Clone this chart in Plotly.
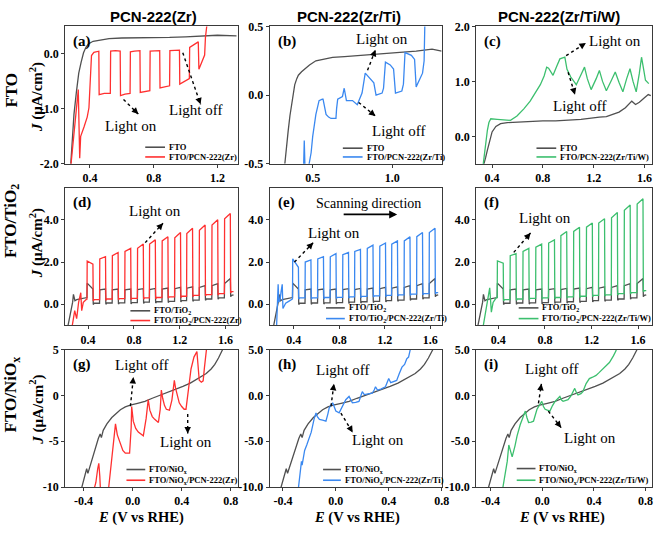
import plotly.graph_objects as go

W, H = 666, 533
SERIF = "Liberation Serif"
SANS = "Liberation Sans"
GRAY = "#505050"
RED = "#ff3030"
BLUE = "#3a88f0"
GREEN = "#3cbf6e"

# ---------------- data : row 1 (FTO) ----------------
a_fto_x = [0.28, 0.29, 0.30, 0.315, 0.33, 0.345, 0.36, 0.375, 0.39, 0.42, 0.47, 0.52, 0.60, 0.70, 0.80, 0.90, 1.00, 1.10, 1.20, 1.32]
a_fto_y = [-2.0, -1.6, -1.1, -0.7, -0.35, -0.15, 0.02, 0.12, 0.18, 0.23, 0.26, 0.28, 0.29, 0.29, 0.30, 0.30, 0.31, 0.33, 0.34, 0.33]
a_pcn_x = [0.28, 0.30, 0.32, 0.327, 0.336, 0.342, 0.363, 0.383, 0.394, 0.41, 0.425, 0.456,
           0.458, 0.49, 0.528, 0.530, 0.56, 0.590, 0.592, 0.62, 0.652, 0.654, 0.68, 0.714,
           0.716, 0.745, 0.776, 0.778, 0.81, 0.838, 0.840, 0.87, 0.900, 0.902, 0.93, 0.962,
           0.964, 0.99, 1.024, 1.026, 1.05, 1.080, 1.084, 1.095, 1.11, 1.12, 1.125, 1.135]
a_pcn_y = [-2.05, -1.39, -0.8, -0.65, -1.9, -1.5, -1.33, -1.15, -0.98, -0.03, 0.03, 0.05,
           -0.74, -0.72, -0.72, 0.05, 0.06, 0.05, -0.76, -0.73, -0.72, 0.04, 0.05, 0.06,
           -0.70, -0.68, -0.67, 0.05, 0.06, 0.06, -0.62, -0.60, -0.58, 0.06, 0.07, 0.07,
           -0.55, -0.50, -0.45, 0.12, 0.16, 0.22, -0.28, -0.2, -0.08, -0.02, 0.3, 0.55]

b_fto_x = [0.325, 0.335, 0.346, 0.357, 0.367, 0.377, 0.387, 0.40, 0.41, 0.43, 0.45, 0.48, 0.52, 0.57, 0.625, 0.70, 0.83, 0.95, 1.04, 1.15, 1.25, 1.31]
b_fto_y = [-0.5, -0.37, -0.26, -0.15, -0.07, 0.02, 0.075, 0.12, 0.145, 0.17, 0.19, 0.22, 0.25, 0.26, 0.275, 0.28, 0.29, 0.30, 0.31, 0.32, 0.335, 0.32]
b_pcn_x = [0.443, 0.447, 0.452, 0.47, 0.49, 0.50, 0.52, 0.54, 0.56, 0.565, 0.584, 0.60, 0.615, 0.646, 0.65,
           0.657, 0.687, 0.698, 0.712, 0.75, 0.78, 0.80, 0.81, 0.83, 0.863, 0.884, 0.898, 0.936, 0.945,
           0.957, 0.987, 1.008, 1.02, 1.06, 1.07, 1.08, 1.12, 1.14, 1.15, 1.17, 1.19, 1.2, 1.205]
b_pcn_y = [-0.52, -0.33, -0.55, -0.55, -0.42, -0.30, -0.14, -0.04, -0.03, -0.03, -0.14, -0.16, -0.17, -0.17, -0.1,
           -0.03, -0.01, 0.05, -0.04, -0.04, -0.07, -0.02, 0.015, 0.16, 0.12, 0.09, 0.0, 0.015, 0.05,
           0.24, 0.22, 0.19, 0.015, 0.03, 0.08, 0.31, 0.29, 0.26, 0.06, 0.11, 0.16, 0.25, 0.55]

c_fto_x = [0.33, 0.337, 0.35, 0.363, 0.38, 0.40, 0.43, 0.467, 0.52, 0.596, 0.70, 0.80, 0.90, 0.985, 1.10, 1.245,
           1.30, 1.35, 1.40, 1.45, 1.50, 1.53, 1.56, 1.60, 1.63, 1.65]
c_fto_y = [-0.55, -0.5, -0.38, -0.25, -0.08, 0.08, 0.18, 0.23, 0.25, 0.26, 0.27, 0.28, 0.28, 0.29, 0.31, 0.35,
           0.36, 0.40, 0.44, 0.52, 0.64, 0.58, 0.62, 0.70, 0.76, 0.74]
c_pcn_x = [0.328, 0.34, 0.352, 0.363, 0.375, 0.39, 0.44, 0.50, 0.545, 0.596, 0.65, 0.70, 0.74, 0.78, 0.81, 0.83,
           0.845, 0.88, 0.91, 0.934, 0.973, 0.99, 1.02, 1.063, 1.10, 1.128, 1.15, 1.18, 1.22, 1.245, 1.27, 1.30,
           1.34, 1.37, 1.40, 1.43, 1.46, 1.486, 1.51, 1.535, 1.56, 1.577, 1.595, 1.608, 1.634]
c_pcn_y = [-0.55, -0.3, -0.05, 0.11, 0.25, 0.32, 0.31, 0.30, 0.29, 0.37, 0.50, 0.64, 0.80, 0.94, 1.10, 1.26,
           1.24, 1.11, 1.28, 1.41, 1.44, 1.22, 1.08, 0.94, 1.12, 1.26, 1.05, 0.85, 1.05, 1.20, 1.00, 0.83,
           1.02, 1.17, 0.98, 0.81, 1.05, 1.23, 1.00, 0.81, 1.15, 1.44, 1.20, 1.02, 0.96]

# ---------------- data : row 2 (FTO/TiO2), chopped light ----------------
light_on_x = [0.39, 0.50, 0.61, 0.72, 0.83, 0.935, 1.045, 1.155, 1.26, 1.37, 1.48, 1.59]
light_off_x = [0.445, 0.555, 0.665, 0.775, 0.885, 0.99, 1.10, 1.21, 1.315, 1.425, 1.535, 1.645]
scan_end_x = 1.67

tio2_pre_x = [0.225, 0.24, 0.255, 0.265, 0.272, 0.285, 0.30, 0.33, 0.36, 0.385]
tio2_pre_y = [-1.0, -0.6, -0.22, 0.1, 0.47, 0.17, 0.22, 0.26, 0.30, 0.32]
tio2_top_a = [1.0, 0.68, 0.68, 0.68, 0.70, 0.70, 0.72, 0.74, 0.76, 0.80, 0.88, 0.98]
tio2_top_b = [0.72, 0.72, 0.72, 0.72, 0.74, 0.75, 0.77, 0.80, 0.83, 0.88, 0.98, 1.22]
tio2_dark = [0.05, 0.06, 0.07, 0.08, 0.10, 0.12, 0.14, 0.17, 0.20, 0.25, 0.30, 0.42]

d_pre_x = [0.255, 0.262, 0.283, 0.30, 0.317, 0.336, 0.344, 0.358, 0.386]
d_pre_y = [-1.1, -1.0, -0.3, -0.68, 0.09, 0.55, -0.3, 0.09, 0.24]
d_top_a = [2.05, 2.15, 2.30, 2.50, 2.65, 2.85, 3.00, 3.15, 3.35, 3.50, 3.75, 4.05]
d_top_b = [1.90, 2.25, 2.45, 2.65, 2.85, 3.05, 3.20, 3.40, 3.60, 3.75, 4.00, 4.30]
d_dark = [0.22, 0.25, 0.27, 0.28, 0.30, 0.32, 0.35, 0.38, 0.42, 0.46, 0.50, 0.60]

e_pre_x = [0.25, 0.258, 0.264, 0.27, 0.28, 0.29, 0.30, 0.306, 0.315, 0.33, 0.36, 0.385]
e_pre_y = [-1.1, -0.3, 0.95, 0.1, 0.2, 0.6, 0.95, -0.2, -0.1, 0.05, 0.15, 0.25]
e_top_a = [2.15, 2.00, 2.15, 2.25, 2.35, 2.50, 2.65, 2.75, 2.85, 3.00, 3.20, 3.40]
e_top_b = [1.75, 2.10, 2.25, 2.40, 2.45, 2.60, 2.80, 2.90, 3.00, 3.20, 3.40, 3.60]
e_dark = [0.30, 0.30, 0.32, 0.33, 0.35, 0.37, 0.40, 0.42, 0.45, 0.48, 0.50, 0.55]

f_pre_x = [0.268, 0.285, 0.298, 0.31, 0.326, 0.34, 0.355, 0.383]
f_pre_y = [-1.1, -0.6, -0.22, 0.17, 0.78, -0.37, 0.09, 0.32]
f_top_a = [2.05, 2.30, 2.50, 2.70, 2.90, 3.25, 3.45, 3.65, 3.85, 4.10, 4.45, 4.75]
f_top_b = [1.95, 2.40, 2.65, 2.85, 3.05, 3.45, 3.65, 3.85, 4.05, 4.35, 4.70, 5.00]
f_dark = [0.22, 0.25, 0.28, 0.30, 0.32, 0.35, 0.38, 0.42, 0.45, 0.50, 0.55, 0.65]

# ---------------- data : row 3 (FTO/NiOx) ----------------
nio_x = [-0.42, -0.39, -0.375, -0.365, -0.34, -0.32, -0.30, -0.28, -0.265, -0.255, -0.24, -0.21, -0.17, -0.13,
         -0.10, -0.06, -0.02, 0.04, 0.10, 0.16, 0.22, 0.28, 0.35, 0.41, 0.47, 0.52, 0.56, 0.60, 0.64, 0.67,
         0.70, 0.72, 0.74]
nio_y = [-10.3, -8.6, -8.0, -8.5, -7.3, -6.6, -5.5, -4.7, -4.2, -4.6, -3.8, -3.1, -2.4, -1.9,
         -1.55, -1.25, -1.05, -0.85, -0.64, -0.3, 0.0, 0.3, 0.7, 1.0, 1.35, 1.75, 2.05, 2.4, 2.9, 3.4,
         4.1, 4.6, 5.2]

g_pcn_x = [-0.33, -0.30, -0.285, -0.276, -0.268, -0.262, -0.25, -0.205, -0.195, -0.17, -0.15, -0.14, -0.125,
           -0.10, -0.08, -0.06, -0.025, -0.012, -0.008, 0.005, 0.025, 0.046, 0.07, 0.087, 0.11, 0.127, 0.14,
           0.16, 0.18, 0.21, 0.225, 0.234, 0.245, 0.26, 0.275, 0.30, 0.32, 0.34, 0.35, 0.365, 0.38, 0.40,
           0.42, 0.435, 0.455, 0.476, 0.50, 0.524, 0.532, 0.543, 0.56, 0.575, 0.585, 0.597, 0.61]
g_pcn_y = [-11, -9.5, -8.0, -7.4, -8.8, -10.5, -11, -11, -10, -6.5, -4.0, -3.1, -4.3,
           -5.4, -6.0, -6.3, -6.3, -3.5, -1.2, -2.8, -3.6, -4.0, -4.3, -4.4, -2.5, -0.45, -1.6,
           -2.3, -2.6, -2.95, -1.5, 0.6, -0.3, -1.1, -1.5, -1.6, -0.5, 1.65, 0.8, 0.0, -0.8, -1.2,
           -1.5, -1.5, 0.5, 2.9, 4.2, 4.8, 3.5, 1.67, 1.45, 1.6, 3.0, 5.0, 6.0]

h_pcn_x = [-0.29, -0.275, -0.26, -0.255, -0.245, -0.236, -0.22, -0.20, -0.186, -0.165, -0.15, -0.14, -0.124,
           -0.10, -0.075, -0.06, -0.05, -0.024, -0.012, 0.0, 0.025, 0.05, 0.075, 0.10, 0.115, 0.125, 0.15,
           0.175, 0.19, 0.20, 0.215, 0.24, 0.275, 0.29, 0.30, 0.315, 0.34, 0.375, 0.39, 0.40, 0.415, 0.44,
           0.46, 0.48, 0.50, 0.52, 0.536, 0.55, 0.56, 0.575]
h_pcn_y = [-11, -9.0, -7.2, -7.6, -6.6, -6.0, -5.4, -4.6, -4.0, -2.6, -1.9, -2.3, -2.6,
           -2.7, -2.8, -2.0, -1.35, -0.8, -1.2, -1.7, -1.9, -1.2, -0.46, -0.1, -0.6, -0.8, -0.75,
           -0.64, 0.0, 0.43, 0.1, 0.15, 0.25, 0.6, 0.95, 0.6, 0.7, 0.95, 1.4, 1.85, 1.4, 1.5,
           1.65, 2.4, 3.1, 3.4, 4.0, 4.2, 5.0, 5.8]

i_pcn_x = [-0.315, -0.29, -0.27, -0.258, -0.245, -0.232, -0.21, -0.194, -0.17, -0.143, -0.13, -0.118, -0.105,
           -0.085, -0.067, -0.04, -0.003, 0.01, 0.023, 0.04, 0.06, 0.08, 0.10, 0.137, 0.15, 0.162, 0.18,
           0.20, 0.22, 0.252, 0.265, 0.277, 0.30, 0.315, 0.34, 0.365, 0.39, 0.417, 0.44, 0.468, 0.50, 0.52,
           0.55, 0.57, 0.585]
i_pcn_y = [-11, -8.8, -7.2, -5.4, -6.2, -6.7, -5.5, -4.4, -3.2, -2.2, -1.7, -2.4, -2.95,
           -2.9, -2.8, -1.5, -0.64, -1.2, -1.5, -1.6, -1.7, -1.1, -0.64, -0.1, -0.5, -0.64, -0.55,
           -0.46, -0.1, 0.78, 0.3, 0.07, 0.2, 0.43, 1.3, 1.85, 2.0, 2.2, 2.5, 2.9, 3.4, 3.6,
           4.3, 4.85, 5.5]

# ---------------- text ----------------
col_titles = ["PCN-222(Zr)", "PCN-222(Zr/Ti)", "PCN-222(Zr/Ti/W)"]
row_titles = ["FTO", "FTO/TiO<sub>2</sub>", "FTO/NiO<sub>x</sub>"]
panel_letters = ["(a)", "(b)", "(c)", "(d)", "(e)", "(f)", "(g)", "(h)", "(i)"]
legend_labels = [
    ("FTO", "FTO/PCN-222(Zr)"), ("FTO", "FTO/PCN-222(Zr/Ti)"), ("FTO", "FTO/PCN-222(Zr/Ti/W)"),
    ("FTO/TiO<sub>2</sub>", "FTO/TiO<sub>2</sub>/PCN-222(Zr)"),
    ("FTO/TiO<sub>2</sub>", "FTO/TiO<sub>2</sub>/PCN-222(Zr/Ti)"),
    ("FTO/TiO<sub>2</sub>", "FTO/TiO<sub>2</sub>/PCN-222(Zr/Ti/W)"),
    ("FTO/NiO<sub>x</sub>", "FTO/NiO<sub>x</sub>/PCN-222(Zr)"),
    ("FTO/NiO<sub>x</sub>", "FTO/NiO<sub>x</sub>/PCN-222(Zr/Ti)"),
    ("FTO/NiO<sub>x</sub>", "FTO/NiO<sub>x</sub>/PCN-222(Zr/Ti/W)"),
]


def chopped(pre_x, pre_y, top_a, top_b, dark, end_y):
    xs, ys = list(pre_x), list(pre_y)
    for k in range(len(light_on_x)):
        xs += [light_on_x[k], light_on_x[k] + 0.002, light_off_x[k] - 0.003, light_off_x[k], light_off_x[k] + 0.008]
        ys += [ys[-1], top_a[k], top_b[k], dark[k] - 0.06, dark[k]]
    xs.append(scan_end_x)
    ys.append(end_y)
    return xs, ys


tio2_x, tio2_y = chopped(tio2_pre_x, tio2_pre_y, tio2_top_a, tio2_top_b, tio2_dark, 0.45)
d_pcn_x, d_pcn_y = chopped(d_pre_x, d_pre_y, d_top_a, d_top_b, d_dark, 0.60)
e_pcn_x, e_pcn_y = chopped(e_pre_x, e_pre_y, e_top_a, e_top_b, e_dark, 0.55)
f_pcn_x, f_pcn_y = chopped(f_pre_x, f_pre_y, f_top_a, f_top_b, f_dark, 0.65)

# ---------------- layout geometry (pixels) ----------------
COLS = [(66, 241), (273, 447), (482, 660)]
ROWS = [(20, 161), (186, 327), (352, 493)]

x_ranges = [[0.245, 1.33], [0.23, 1.31], [0.275, 1.66],
            [0.2, 1.71], [0.19, 1.70], [0.21, 1.72],
            [-0.55, 0.86], [-0.5, 0.8], [-0.51, 0.85]]
y_ranges = [[-2.0, 0.5], [-0.5, 0.5], [-0.5, 2.0],
            [-1.0, 5.5], [-1.0, 5.5], [-1.0, 5.5],
            [-10, 5], [-10, 5], [-10, 5]]
x_ticks = [[0.4, 0.8, 1.2], [0.5, 1.0], [0.4, 0.8, 1.2, 1.6],
           [0.4, 0.8, 1.2, 1.6], [0.4, 0.8, 1.2, 1.6], [0.4, 0.8, 1.2, 1.6],
           [-0.4, 0.0, 0.4, 0.8], [-0.4, 0.0, 0.4, 0.8], [-0.4, 0.0, 0.4, 0.8]]
x_ticktext = [["0.4", "0.8", "1.2"], ["0.5", "1.0"], ["0.4", "0.8", "1.2", "1.6"],
              ["0.4", "0.8", "1.2", "1.6"], ["0.4", "0.8", "1.2", "1.6"], ["0.4", "0.8", "1.2", "1.6"],
              ["-0.4", "0.0", "0.4", "0.8"], ["-0.4", "0.0", "0.4", "0.8"], ["-0.4", "0.0", "0.4", "0.8"]]
y_ticks = [[-2.0, -1.0, 0.0], [-0.5, 0.0, 0.5], [0.0, 1.0, 2.0],
           [0.0, 2.0, 4.0], [0.0, 2.0, 4.0], [0.0, 2.0, 4.0],
           [-10, -5, 0, 5], [-10, -5, 0, 5], [-10, -5, 0, 5]]
y_ticktext = [["-2.0", "-1.0", "0.0"], ["-0.5", "0.0", "0.5"], ["0.0", "1.0", "2.0"],
              ["0.0", "2.0", "4.0"], ["0.0", "2.0", "4.0"], ["0.0", "2.0", "4.0"],
              ["-10", "-5", "0", "5"], ["-10.0", "-5.0", "0.0", "5.0"], ["-10.0", "-5.0", "0.0", "5.0"]]

curves = [
    [(a_fto_x, a_fto_y, GRAY), (a_pcn_x, a_pcn_y, RED)],
    [(b_fto_x, b_fto_y, GRAY), (b_pcn_x, b_pcn_y, BLUE)],
    [(c_fto_x, c_fto_y, GRAY), (c_pcn_x, c_pcn_y, GREEN)],
    [(tio2_x, tio2_y, GRAY), (d_pcn_x, d_pcn_y, RED)],
    [(tio2_x, tio2_y, GRAY), (e_pcn_x, e_pcn_y, BLUE)],
    [(tio2_x, tio2_y, GRAY), (f_pcn_x, f_pcn_y, GREEN)],
    [(nio_x, nio_y, GRAY), (g_pcn_x, g_pcn_y, RED)],
    [(nio_x, nio_y, GRAY), (h_pcn_x, h_pcn_y, BLUE)],
    [(nio_x, nio_y, GRAY), (i_pcn_x, i_pcn_y, GREEN)],
]

# legend geometry: line start px, line end px, y of entry 1, y of entry 2
legend_geo = [(147, 167, 144, 154), (347, 367, 145, 154), (543, 563, 145, 154),
              (132, 152, 312, 322), (330, 349, 309, 320), (525, 545, 309, 320),
              (128, 147, 475, 486), (327, 345, 475, 486), (523, 542, 474, 486)]

# text annotations: (text, px, py, size)
notes = [
    ("Light on", 133, 122, 15), ("Light off", 198, 106, 15),
    ("Light on", 387, 33, 15), ("Light off", 403, 127, 15),
    ("Light on", 622, 35, 15), ("Light off", 587, 102, 15),
    ("Light on", 157, 210, 15),
    ("Scanning direction", 373, 202, 14), ("Light on", 338, 232, 15),
    ("Light on", 552, 217, 15),
    ("Light off", 143, 368, 15), ("Light on", 188, 447, 15),
    ("Light off", 347, 373, 15), ("Light on", 383, 445, 15),
    ("Light off", 558, 372, 15), ("Light on", 597, 443, 15),
]
# dotted arrows: tail px,py -> head px,py
dotted_arrows = [
    (125, 95, 140, 110), (185, 47, 203, 100),
    (372, 65, 380, 44), (363, 98, 380, 112),
    (573, 50, 593, 37), (575, 67, 582, 90),
    (147, 242, 165, 222),
    (298, 262, 317, 242),
    (520, 252, 537, 232),
    (132, 410, 135, 380), (190, 418, 190, 438),
    (335, 410, 338, 387), (345, 417, 357, 437),
    (545, 407, 548, 387), (555, 415, 568, 432),
]
solid_arrows = [(347, 213, 402, 213)]

col_title_x = [155, 353, 566]
xtitle_x = [143, 361, 569]
row_title_y = [85, 220, 398]
jlabel_y = [93, 243, 414]


def px(x):
    return x / W


def py(y):
    return 1 - y / H


fig = go.Figure()
layout = dict(width=W, height=H, margin=dict(l=0, r=0, t=0, b=0),
              paper_bgcolor="white", plot_bgcolor="white", showlegend=False)

shapes = []
annotations = []

for p in range(9):
    r, c = divmod(p, 3)
    sfx = "" if p == 0 else str(p + 1)
    xa, ya = "x" + sfx, "y" + sfx
    for (xs, ys, col) in curves[p]:
        fig.add_trace(go.Scatter(x=xs, y=ys, mode="lines", xaxis=xa, yaxis=ya,
                                 line=dict(color=col, width=1.3), hoverinfo="skip"))
    common = dict(showline=True, mirror=True, linecolor="#3a3a3a", linewidth=1,
                  ticks="outside", ticklen=3, tickwidth=1, tickcolor="#3a3a3a",
                  showgrid=False, zeroline=False,
                  tickfont=dict(family=SERIF, size=12, color="black"))
    layout["xaxis" + sfx] = dict(domain=[COLS[c][0] / W, COLS[c][1] / W], range=x_ranges[p],
                                 anchor=ya, tickmode="array", tickvals=x_ticks[p],
                                 ticktext=["<b>%s</b>" % t for t in x_ticktext[p]], **common)
    layout["yaxis" + sfx] = dict(domain=[1 - ROWS[r][1] / H, 1 - ROWS[r][0] / H], range=y_ranges[p],
                                 anchor=xa, tickmode="array", tickvals=y_ticks[p],
                                 ticktext=["<b>%s</b>" % t for t in y_ticktext[p]], **common)
    annotations.append(dict(text="<b>%s</b>" % panel_letters[p], xref="paper", yref="paper",
                            x=px(COLS[c][0] + 6), y=py(ROWS[r][0] + 15), xanchor="left", yanchor="middle",
                            showarrow=False, font=dict(family=SERIF, size=15, color="black")))
    lx0, lx1, ly1, ly2 = legend_geo[p]
    cols_leg = [GRAY, curves[p][1][2]]
    for k, ly in enumerate((ly1, ly2)):
        shapes.append(dict(type="line", xref="paper", yref="paper", x0=px(lx0), x1=px(lx1),
                           y0=py(ly), y1=py(ly), line=dict(color=cols_leg[k], width=1.6)))
        annotations.append(dict(text="<b>%s</b>" % legend_labels[p][k], xref="paper", yref="paper",
                                x=px(lx1 + 2), y=py(ly), xanchor="left", yanchor="middle",
                                showarrow=False, font=dict(family=SERIF, size=8.5, color="black")))

for c, t in enumerate(col_titles):
    annotations.append(dict(text="<b>%s</b>" % t, xref="paper", yref="paper",
                            x=px(col_title_x[c]), y=py(10), xanchor="center",
                            yanchor="middle", showarrow=False, font=dict(family=SANS, size=15, color="black")))
for r in range(3):
    annotations.append(dict(text="<b>%s</b>" % row_titles[r], xref="paper", yref="paper",
                            x=px(12), y=py(row_title_y[r]), textangle=-90, xanchor="center",
                            yanchor="middle", showarrow=False, font=dict(family=SERIF, size=17, color="black")))
    annotations.append(dict(text="<b><i>J</i> (μA/cm<sup>2</sup>)</b>", xref="paper", yref="paper",
                            x=px(37), y=py(jlabel_y[r]), textangle=-90, xanchor="center",
                            yanchor="middle", showarrow=False, font=dict(family=SERIF, size=15, color="black")))
for c in range(3):
    annotations.append(dict(text="<b><i>E</i> (V vs RHE)</b>", xref="paper", yref="paper",
                            x=px(xtitle_x[c]), y=py(524), xanchor="center",
                            yanchor="middle", showarrow=False, font=dict(family=SERIF, size=14.5, color="black")))

for (t, x0, y0, s) in notes:
    annotations.append(dict(text=t, xref="paper", yref="paper", x=px(x0), y=py(y0),
                            xanchor="center", yanchor="middle", showarrow=False,
                            font=dict(family=SERIF, size=s, color="black")))
for (tx, ty, hx, hy) in dotted_arrows:
    shapes.append(dict(type="line", xref="paper", yref="paper", x0=px(tx), y0=py(ty), x1=px(hx), y1=py(hy),
                       line=dict(color="black", width=1.4, dash="dot")))
    dx, dy = hx - tx, hy - ty
    n = (dx * dx + dy * dy) ** 0.5
    annotations.append(dict(text="", xref="paper", yref="paper", x=px(hx), y=py(hy),
                            ax=-dx / n * 5, ay=-dy / n * 5, showarrow=True, arrowhead=2,
                            arrowsize=1, arrowwidth=1.3, arrowcolor="black"))
for (tx, ty, hx, hy) in solid_arrows:
    annotations.append(dict(text="", xref="paper", yref="paper", x=px(hx), y=py(hy),
                            ax=tx - hx, ay=ty - hy, showarrow=True, arrowhead=2,
                            arrowsize=1, arrowwidth=1.6, arrowcolor="black"))

layout["shapes"] = shapes
layout["annotations"] = annotations
fig.update_layout(**layout)
fig.write_html("out.html")
